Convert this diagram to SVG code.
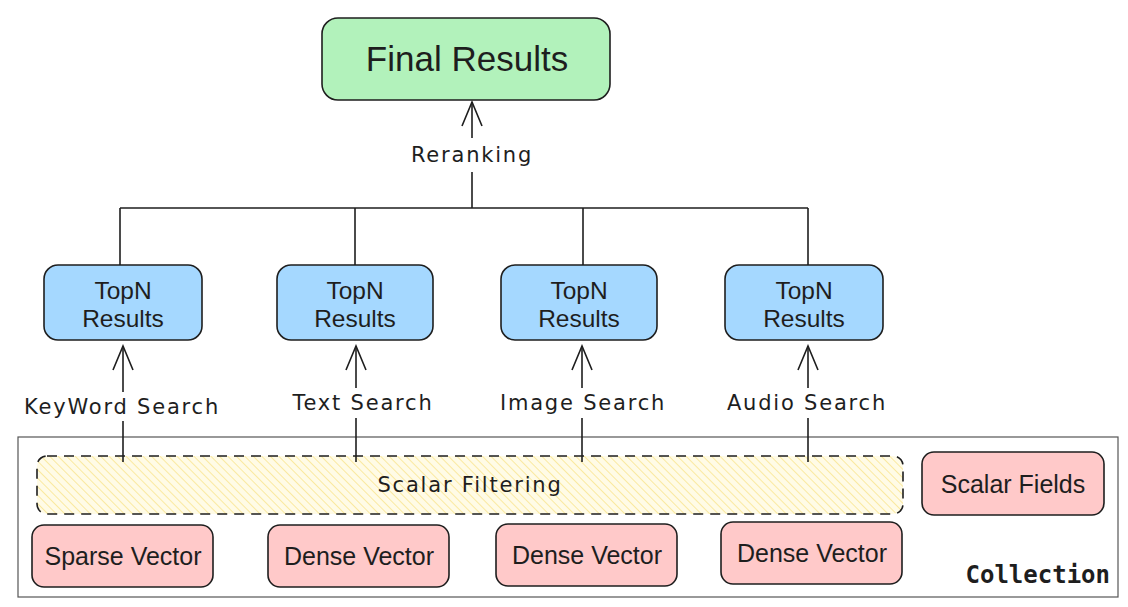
<svg xmlns="http://www.w3.org/2000/svg" width="1128" height="607" viewBox="0 0 1128 607">
<style>
.box{stroke:#1e1e1e;stroke-width:1.6}
.green{fill:#b2f2bb}
.blue{fill:#a5d8ff}
.pink{fill:#ffc9c9}
.t{font-family:"Liberation Sans",Arial,sans-serif;fill:#1e1e1e;text-anchor:middle}
.hand{font-family:"DejaVu Sans",sans-serif;fill:#1e1e1e;text-anchor:middle;font-size:21px;letter-spacing:1.8px}
.ln{stroke:#1e1e1e;stroke-width:1.6;fill:none}
</style>
<defs>
<pattern id="hatch" width="6" height="6" patternUnits="userSpaceOnUse" patternTransform="rotate(-45)">
<rect width="6" height="6" fill="#fffbe6"/>
<line x1="0" y1="0" x2="0" y2="6" stroke="#f5d75a" stroke-width="1"/>
</pattern>
<marker id="arr" viewBox="0 0 28 24" refX="26" refY="12" markerWidth="28" markerHeight="24" markerUnits="userSpaceOnUse" orient="auto">
<path d="M2 2 L26 12 L2 22" fill="none" stroke="#1e1e1e" stroke-width="1.6"/>
</marker>
</defs>
<rect width="1128" height="607" fill="#ffffff"/>

<g id="collection">
<rect x="18" y="437" width="1100" height="160" fill="none" stroke="#555" stroke-width="1.2"/>
<text x="1110" y="583" font-family="'DejaVu Sans Mono','Liberation Mono',monospace" font-weight="bold" font-size="24" text-anchor="end" fill="#1e1e1e">Collection</text>
</g>

<g id="scalar-filtering">
<rect x="37" y="456" width="866" height="58" rx="10" fill="url(#hatch)" stroke="#1e1e1e" stroke-width="1.6" stroke-dasharray="10 7"/>
<text class="hand" x="470" y="492">Scalar Filtering</text>
</g>

<g id="connectors">
<line class="ln" x1="472" y1="208" x2="472" y2="172"/>
<line class="ln" x1="472" y1="138" x2="472" y2="102" marker-end="url(#arr)"/>
<line class="ln" x1="120" y1="208" x2="808" y2="208"/>
<line class="ln" x1="120" y1="208" x2="120" y2="265"/>
<line class="ln" x1="355" y1="208" x2="355" y2="265"/>
<line class="ln" x1="583" y1="208" x2="583" y2="265"/>
<line class="ln" x1="808" y1="208" x2="808" y2="265"/>
<line class="ln" x1="123" y1="462" x2="123" y2="421"/>
<line class="ln" x1="123" y1="392" x2="123" y2="346" marker-end="url(#arr)"/>
<line class="ln" x1="356" y1="462" x2="356" y2="418"/>
<line class="ln" x1="356" y1="388" x2="356" y2="346" marker-end="url(#arr)"/>
<line class="ln" x1="582" y1="462" x2="582" y2="418"/>
<line class="ln" x1="582" y1="388" x2="582" y2="346" marker-end="url(#arr)"/>
<line class="ln" x1="808" y1="462" x2="808" y2="418"/>
<line class="ln" x1="808" y1="388" x2="808" y2="346" marker-end="url(#arr)"/>
<text class="hand" x="472" y="162">Reranking</text>
<text class="hand" x="122" y="414">KeyWord Search</text>
<text class="hand" x="363" y="410">Text Search</text>
<text class="hand" x="583" y="410">Image Search</text>
<text class="hand" x="807" y="410">Audio Search</text>
</g>

<g id="final-results">
<rect class="box green" x="322" y="18" width="288" height="82" rx="16"/>
<text class="t" x="467" y="71" font-size="35">Final Results</text>
</g>

<g id="topn-1">
<rect class="box blue" x="44" y="265" width="158" height="75" rx="14"/>
<text class="t" x="123" y="299" font-size="24.5">TopN</text>
<text class="t" x="123" y="327" font-size="24.5">Results</text>
</g>
<g id="topn-2">
<rect class="box blue" x="277" y="265" width="156" height="75" rx="14"/>
<text class="t" x="355" y="299" font-size="24.5">TopN</text>
<text class="t" x="355" y="327" font-size="24.5">Results</text>
</g>
<g id="topn-3">
<rect class="box blue" x="501" y="265" width="156" height="75" rx="14"/>
<text class="t" x="579" y="299" font-size="24.5">TopN</text>
<text class="t" x="579" y="327" font-size="24.5">Results</text>
</g>
<g id="topn-4">
<rect class="box blue" x="725" y="265" width="158" height="75" rx="14"/>
<text class="t" x="804" y="299" font-size="24.5">TopN</text>
<text class="t" x="804" y="327" font-size="24.5">Results</text>
</g>

<g id="scalar-fields">
<rect class="box pink" x="922" y="452" width="182" height="63" rx="12"/>
<text class="t" x="1013" y="493" font-size="25">Scalar Fields</text>
</g>
<g id="sparse-vector">
<rect class="box pink" x="32" y="525" width="181" height="62" rx="12"/>
<text class="t" x="123" y="565" font-size="25">Sparse Vector</text>
</g>
<g id="dense-vector-1">
<rect class="box pink" x="268" y="525" width="181" height="62" rx="12"/>
<text class="t" x="359" y="565" font-size="25">Dense Vector</text>
</g>
<g id="dense-vector-2">
<rect class="box pink" x="496" y="524" width="181" height="62" rx="12"/>
<text class="t" x="587" y="564" font-size="25">Dense Vector</text>
</g>
<g id="dense-vector-3">
<rect class="box pink" x="721" y="522" width="181" height="62" rx="12"/>
<text class="t" x="812" y="562" font-size="25">Dense Vector</text>
</g>
</svg>
